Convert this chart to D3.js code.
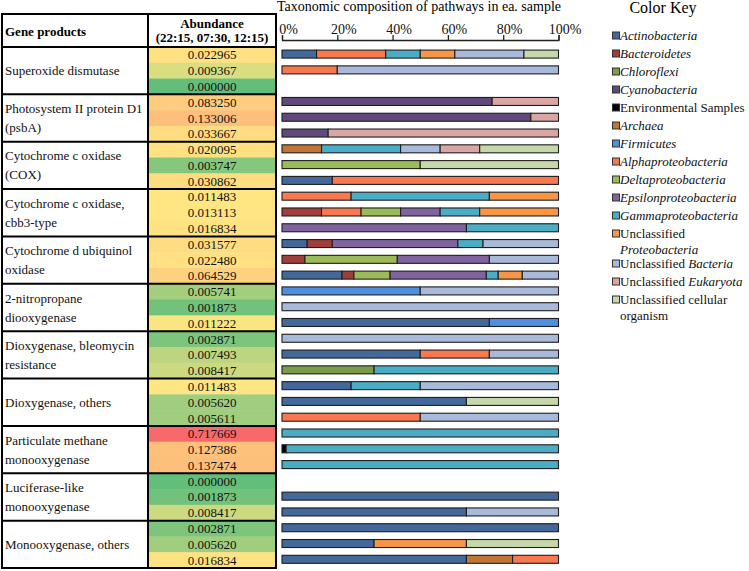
<!DOCTYPE html>
<html><head><meta charset="utf-8">
<script src="https://cdn.jsdelivr.net/npm/d3@7"></script>
<style>
body{margin:0;background:#fff;}
svg{display:block;font-family:"Liberation Serif","Times New Roman",serif;}
</style>
</head><body>
<svg id="chart" width="749" height="571"></svg>
<script>
// ---------------- data ----------------
const geneProducts = [
  ["Superoxide dismutase"],
  ["Photosystem II protein D1", "(psbA)"],
  ["Cytochrome c oxidase", "(COX)"],
  ["Cytochrome c oxidase,", "cbb3-type"],
  ["Cytochrome d ubiquinol", "oxidase"],
  ["2-nitropropane", "diooxygenase"],
  ["Dioxygenase, bleomycin", "resistance"],
  ["Dioxygenase, others"],
  ["Particulate methane", "monooxygenase"],
  ["Luciferase-like", "monooxygenase"],
  ["Monooxygenase, others"]
];
const abundance = [
  "0.022965","0.009367","0.000000",
  "0.083250","0.133006","0.033667",
  "0.020095","0.003747","0.030862",
  "0.011483","0.013113","0.016834",
  "0.031577","0.022480","0.064529",
  "0.005741","0.001873","0.011222",
  "0.002871","0.007493","0.008417",
  "0.011483","0.005620","0.005611",
  "0.717669","0.127386","0.137474",
  "0.000000","0.001873","0.008417",
  "0.002871","0.005620","0.016834"
];
const taxa = [
  "*Actinobacteria*", "*Bacteroidetes*", "*Chloroflexi*", "*Cyanobacteria*",
  "Environmental Samples", "*Archaea*", "*Firmicutes*", "*Alphaproteobacteria*",
  "*Deltaproteobacteria*", "*Epsilonproteobacteria*", "*Gammaproteobacteria*",
  "Unclassified|*Proteobacteria*", "Unclassified *Bacteria*",
  "Unclassified *Eukaryota*", "Unclassified cellular|organism"
];
const taxonColors = [
  "#43689a", "#9f3e3b", "#7d9b48", "#604a7b", "#000000", "#c27636",
  "#4e8fe2", "#f8784f", "#9bbb59", "#8064a2", "#4bacc6", "#f79646",
  "#a9b9d9", "#d9a6a5", "#c6d8a9"
];
// per sample: [taxon index, percent]
const composition = [
  [[0,12.5],[7,25],[10,12.5],[11,12.5],[12,25],[14,12.5]],
  [[7,20],[12,80]],
  [],
  [[3,76],[13,24]],
  [[3,90],[13,10]],
  [[3,16.7],[13,83.3]],
  [[5,14.3],[10,28.6],[12,14.3],[13,14.3],[14,28.5]],
  [[8,50],[14,50]],
  [[0,18.2],[7,81.8]],
  [[7,25],[10,50],[11,25]],
  [[1,14.3],[7,14.3],[8,14.3],[9,14.3],[10,14.3],[11,28.5]],
  [[9,66.7],[10,33.3]],
  [[0,9.1],[1,9.1],[9,45.4],[10,9.1],[12,27.3]],
  [[1,8.3],[8,33.4],[9,33.3],[12,25]],
  [[0,21.7],[1,4.3],[8,13.1],[9,34.8],[10,4.3],[11,8.7],[12,13.1]],
  [[6,50],[12,50]],
  [[12,100]],
  [[0,75],[6,25]],
  [[12,100]],
  [[0,50],[7,25],[12,25]],
  [[2,33.3],[10,66.7]],
  [[0,25],[10,25],[12,50]],
  [[0,66.7],[14,33.3]],
  [[7,50],[12,50]],
  [[10,100]],
  [[4,1.5],[10,98.5]],
  [[10,100]],
  [],
  [[0,100]],
  [[0,66.7],[12,33.3]],
  [[0,100]],
  [[0,33.3],[11,33.4],[14,33.3]],
  [[0,66.7],[5,16.7],[7,16.6]]
];
const pctTicks = [0, 20, 40, 60, 80, 100];

// ---------------- layout ----------------
const svg = d3.select("#chart");
const tblL = 2, tblDiv = 148, tblR = 276, tblTop = 14, hdrBot = 47, tblBot = 568;
const nRows = abundance.length;
const y = d3.scaleBand().domain(d3.range(nRows)).range([hdrBot, tblBot]);
const x = d3.scaleLinear().domain([0, 100]).range([282, 558.5]);

// heat colour scale (green - yellow - red)
const vals = abundance.map(Number);
const med = d3.median(vals), vmax = d3.max(vals);
const green = d3.scalePow().exponent(1.3).domain([0, med]).range(["#63be7b", "#ffe683"]);
const red = d3.scalePow().exponent(0.6).domain([med, vmax]).range(["#ffe683", "#f8696b"]);
const heat = v => v <= med ? green(v) : red(v);

// cells
svg.append("g").selectAll("rect").data(vals).join("rect")
  .attr("x", tblDiv).attr("width", tblR - tblDiv)
  .attr("y", (d, i) => y(i)).attr("height", y.bandwidth() + 0.5)
  .attr("fill", d => heat(d));
svg.append("g").selectAll("text").data(abundance).join("text")
  .attr("x", (tblDiv + tblR) / 2).attr("y", (d, i) => y(i) + y.bandwidth() / 2 + 4.5)
  .attr("text-anchor", "middle").attr("font-size", 13).attr("fill", "#111")
  .text(d => d);

// gene product labels
const gh = y.bandwidth() * 3;
const gl = svg.append("g");
geneProducts.forEach((lines, g) => {
  const cy = y(g * 3) + gh / 2;
  lines.forEach((ln, k) => {
    const off = lines.length === 1 ? 0 : (k === 0 ? -9.5 : 9.5);
    gl.append("text").attr("x", tblL + 3).attr("y", cy + off + 4.5)
      .attr("font-size", 13).attr("fill", "#111").text(ln);
  });
});

// header
svg.append("text").attr("x", tblL + 3).attr("y", 36).attr("font-size", 13)
  .attr("font-weight", "bold").text("Gene products");
svg.append("text").attr("x", (tblDiv + tblR) / 2).attr("y", 27.5).attr("font-size", 13)
  .attr("font-weight", "bold").attr("text-anchor", "middle").text("Abundance");
svg.append("text").attr("x", (tblDiv + tblR) / 2).attr("y", 42).attr("font-size", 13)
  .attr("font-weight", "bold").attr("text-anchor", "middle").text("(22:15, 07:30, 12:15)");

// table lines
const lines = svg.append("g").attr("stroke", "#000").attr("stroke-width", 2).attr("fill", "none");
lines.append("rect").attr("x", tblL).attr("y", tblTop).attr("width", tblR - tblL).attr("height", tblBot - tblTop);
lines.append("line").attr("x1", tblDiv).attr("x2", tblDiv).attr("y1", tblTop).attr("y2", tblBot);
lines.selectAll("line.g").data(d3.range(geneProducts.length)).join("line").attr("class", "g")
  .attr("x1", tblL).attr("x2", tblR).attr("y1", g => y(g * 3)).attr("y2", g => y(g * 3));

// title
svg.append("text").attr("x", 277).attr("y", 11).attr("font-size", 14)
  .text("Taxonomic composition of pathways in ea. sample");

// axis
const axis = svg.append("g").attr("transform", "translate(0,40)")
  .call(d3.axisTop(x).tickValues(pctTicks).tickFormat(d => d + "%").tickSize(5).tickPadding(1));
axis.select(".domain").attr("stroke", "#222").attr("stroke-width", 1.3);
axis.selectAll(".tick line").attr("stroke", "#222").attr("stroke-width", 1.3);
axis.selectAll(".tick text").attr("font-size", 14).attr("fill", "#111")
  .attr("font-family", "Liberation Serif").attr("dx", 6);

// bars
const barH = 8;
const bars = svg.append("g");
composition.forEach((segs, i) => {
  let acc = 0;
  const seg = segs.map(([t, p]) => { const s = { t, x0: acc, x1: acc + p }; acc += p; return s; });
  const cy = y(i) + y.bandwidth() / 2 - 0.8;
  bars.append("g").selectAll("rect").data(seg).join("rect")
    .attr("x", d => x(d.x0)).attr("width", d => x(d.x1) - x(d.x0))
    .attr("y", cy - barH / 2).attr("height", barH)
    .attr("fill", d => taxonColors[d.t]).attr("stroke", "#1e1e1e").attr("stroke-width", 1.1);
});

// legend
svg.append("text").attr("x", 663).attr("y", 13).attr("font-size", 16)
  .attr("text-anchor", "middle").text("Color Key");
const leg = svg.append("g");
taxa.forEach((name, i) => {
  const cy = 35 + 18 * i + (i > 11 ? 12 : 0);
  leg.append("rect").attr("x", 612.5).attr("y", cy - 3).attr("width", 7).attr("height", 7)
    .attr("fill", taxonColors[i]).attr("stroke", "#333").attr("stroke-width", 1);
  name.split("|").forEach((ln, k) => {
    const t = leg.append("text").attr("x", 620).attr("y", cy + 4.5 + k * 16.5)
      .attr("font-size", 13).attr("fill", "#111");
    ln.split("*").forEach((part, j) => {
      if (part === "") return;
      t.append("tspan").attr("font-style", j % 2 === 1 ? "italic" : "normal").text(part);
    });
  });
});
</script>
</body></html>
